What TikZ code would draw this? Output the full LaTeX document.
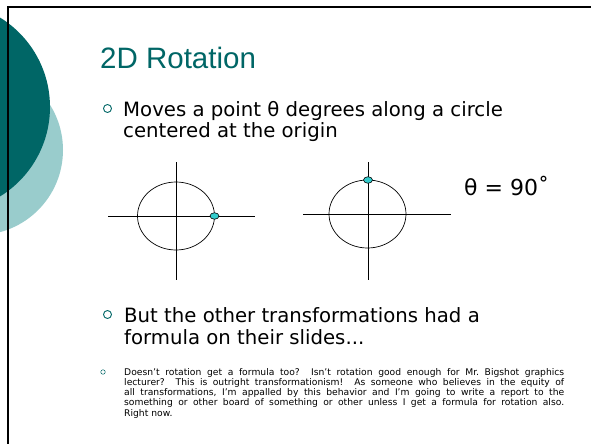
\documentclass[tikz,border=0pt]{standalone}
\usepackage{fontspec}
\setmainfont{DejaVu Sans}
\newfontfamily\titlefont{Liberation Sans}
\usepackage{xcolor}
\usepackage{tikz}
\usetikzlibrary{positioning, shapes.geometric}
\definecolor{slideteal}{HTML}{006666}
\definecolor{paleteal}{HTML}{99CCCC}
\definecolor{dotcyan}{HTML}{33CCCC}
\tikzstyle{titletext} = [anchor=base west, inner sep=0pt, font=\titlefont\fontsize{29.5}{32}\selectfont, text=slideteal]
\tikzstyle{bigtext} = [anchor=base west, inner sep=0pt, font=\fontsize{19.7}{22}\selectfont]
\tikzstyle{smalltext} = [anchor=base west, inner sep=0pt, text width=440pt, align=justify, font=\fontsize{9.2}{10.3}\selectfont\frenchspacing]
\tikzstyle{bigbullet} = [circle, draw=slideteal, line width=0.9pt, minimum size=8pt, inner sep=0pt]
\tikzstyle{smallbullet} = [circle, draw=slideteal, line width=0.5pt, minimum size=4.5pt, inner sep=0pt]
\tikzstyle{axis} = [line width=0.8pt]
\tikzstyle{orbit} = [line width=0.7pt]
\tikzstyle{spot} = [ellipse, draw, fill=dotcyan, line width=0.6pt, minimum width=9pt, minimum height=6.5pt, inner sep=0pt]

\begin{document}
\begin{tikzpicture}[x=1pt, y=-1pt]
  \useasboundingbox (0,0) rectangle (591,444);
  % side decoration
  \begin{scope}
    \clip (0,0) rectangle (591,444);
    \fill[paleteal] (-22,150) circle[radius=85];
    \fill[slideteal] (-55,107) circle[radius=105];
  \end{scope}
  \draw[line width=2.3pt] (591,7) -- (8,7) -- (8,444);

  \node (title) [titletext] at (100,68) {2D Rotation};

  \node (b1) [bigbullet] at (107.5,108.5) {};
  \node (mv1) [bigtext] at (123,116) {Moves a point θ degrees along a circle};
  \node (mv2) [bigtext] at (123,137) {centered at the origin};

  % before
  \coordinate (o1) at (176,216);
  \draw[axis] (108,216) -- (255,216);
  \draw[axis] (176,162) -- (176,280);
  \draw[orbit] (o1) ellipse[x radius=38.5, y radius=34];
  \node (p1) [spot] at (214.5,216) {};

  % after
  \coordinate (o2) at (367.5,214);
  \draw[axis] (303,214.5) -- (451,214.5);
  \draw[axis] (368,162) -- (368,280);
  \draw[orbit] (o2) ellipse[x radius=38.5, y radius=34];
  \node (p2) [spot] at (368,180) {};

  \node (angle) [anchor=base west, inner sep=0pt, font=\fontsize{22}{24}\selectfont] at (464,195) {θ = 90˚};

  \node (b2) [bigbullet] at (107.5,314.5) {};
  \node (bt1) [bigtext] at (124,322) {But the other transformations had a};
  \node (bt2) [bigtext] at (124,344) {formula on their slides...};

  \node (b3) [smallbullet] at (103,372) {};
  \node (rant) [smalltext] at (124,375) {Doesn’t rotation get a formula too?\ \ Isn’t rotation good enough for Mr. Bigshot graphics\linebreak
    lecturer?\ \ This is outright transformationism!\ \ As someone who believes in the equity of\linebreak
    all transformations, I’m appalled by this behavior and I’m going to write a report to the\linebreak
    something or other board of something or other unless I get a formula for rotation also.\linebreak
    Right now.};
\end{tikzpicture}
\end{document}
